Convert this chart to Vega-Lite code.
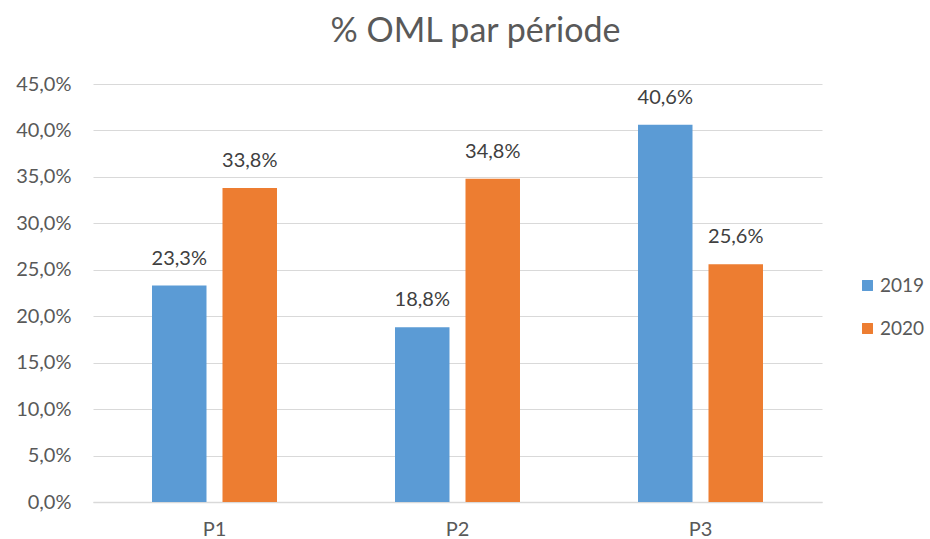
{
  "$schema": "https://vega.github.io/schema/vega-lite/v6.json",
  "autosize": {"type": "none"},
  "width": 729,
  "height": 418,
  "padding": {"left": 93, "top": 84, "right": 108, "bottom": 37},
  "background": "white",
  "config": {
    "locale": {"number": {"decimal": ",", "thousands": " ", "grouping": [3], "currency": ["", " €"]}},
    "view": {"stroke": null},
    "font": "Lato"
  },
  "title": {
    "text": "% OML par période",
    "fontSize": 34,
    "fontWeight": "normal",
    "color": "#595959",
    "font": "Lato",
    "anchor": "middle",
    "frame": "group",
    "dx": 18,
    "offset": 25
  },
  "data": {
    "values": [
      {"periode": "P1", "annee": "2019", "valeur": 0.233},
      {"periode": "P1", "annee": "2020", "valeur": 0.338},
      {"periode": "P2", "annee": "2019", "valeur": 0.188},
      {"periode": "P2", "annee": "2020", "valeur": 0.348},
      {"periode": "P3", "annee": "2019", "valeur": 0.406},
      {"periode": "P3", "annee": "2020", "valeur": 0.256}
    ]
  },
  "encoding": {
    "x": {
      "field": "periode",
      "type": "nominal",
      "scale": {"paddingInner": 0, "paddingOuter": 0},
      "axis": {
        "title": null,
        "labelAngle": 0,
        "labelFontSize": 20,
        "labelColor": "#595959",
        "labelPadding": 17,
        "ticks": false,
        "domainColor": "#D9D9D9",
        "domainWidth": 1.5,
        "grid": false
      }
    },
    "xOffset": {
      "field": "annee",
      "type": "nominal",
      "scale": {"paddingInner": 0.227, "paddingOuter": 0.837}
    },
    "y": {
      "field": "valeur",
      "type": "quantitative",
      "scale": {"domain": [0, 0.45], "nice": false},
      "axis": {
        "title": null,
        "format": ".1%",
        "values": [0, 0.05, 0.1, 0.15, 0.2, 0.25, 0.3, 0.35, 0.4, 0.45],
        "labelFontSize": 20,
        "labelColor": "#595959",
        "labelPadding": 22,
        "ticks": false,
        "domain": false,
        "gridColor": "#D9D9D9",
        "gridWidth": 1
      }
    }
  },
  "layer": [
    {
      "mark": {"type": "bar"},
      "encoding": {
        "color": {
          "field": "annee",
          "type": "nominal",
          "scale": {"domain": ["2019", "2020"], "range": ["#5B9BD5", "#ED7D31"]},
          "legend": {
            "title": null,
            "orient": "none",
            "legendX": 765,
            "legendY": 192,
            "padding": 0,
            "symbolType": "square",
            "symbolSize": 120,
            "symbolStrokeWidth": 0,
            "labelFontSize": 19,
            "labelColor": "#595959",
            "rowPadding": 23,
            "labelOffset": 3
          }
        }
      }
    },
    {
      "mark": {"type": "text", "baseline": "alphabetic", "dy": -21, "fontSize": 20, "color": "#404040"},
      "encoding": {
        "text": {"field": "valeur", "type": "quantitative", "format": ".1%"}
      }
    }
  ]
}
